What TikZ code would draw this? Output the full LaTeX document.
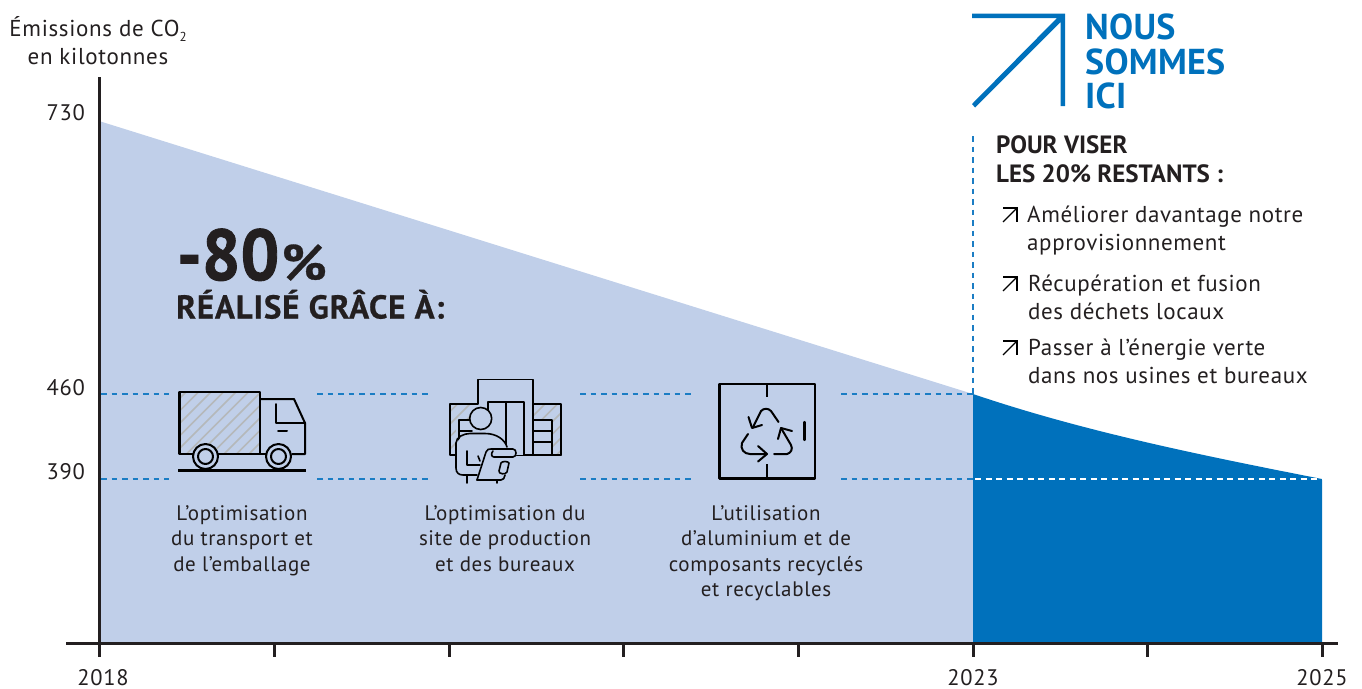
\documentclass[tikz,border=0pt]{standalone}
\usepackage{fontspec}
\setmainfont{PT Sans}
\newfontfamily\bigfont[FakeStretch=0.95,FakeBold=1.2]{PT Sans Bold}
\newfontfamily\pctfont[FakeStretch=1.08,FakeBold=0.6]{PT Sans Bold}
\newfontfamily\midfont[LetterSpace=2.6,FakeBold=0.6]{PT Sans Bold}
\definecolor{ink}{HTML}{231F20}
\definecolor{lightb}{HTML}{C0CFE9}
\definecolor{deepb}{HTML}{0071BC}
\definecolor{dashb}{HTML}{1B7DC4}
\definecolor{hatch}{HTML}{B5B8BA}
\tikzset{
 x=1pt,y=-1pt,
 axisline/.style={draw=ink,line width=3pt},
 dashline/.style={draw=dashb,line width=1.7pt,dash pattern=on 5.5pt off 5pt},
 dashwhite/.style={draw=white,line width=2pt,dash pattern=on 6pt off 4.5pt},
 icon/.style={draw=black,line width=2.2pt,line join=round,line cap=round},
 lab/.style={font=\fontsize{21}{25.5}\selectfont\addfontfeatures{LetterSpace=3},text=ink,inner sep=0pt,align=center},
 num/.style={font=\fontsize{22.5}{25.5}\selectfont\addfontfeatures{LetterSpace=3},text=ink,inner sep=0pt},
 ttl/.style={font=\fontsize{23}{28}\selectfont\addfontfeatures{LetterSpace=3},text=ink,inner sep=0pt,align=center},
 left lab/.style={font=\fontsize{23}{28}\selectfont\addfontfeatures{LetterSpace=2.6},text=ink,inner sep=0pt,align=left,anchor=north west},
 head/.style={font=\fontsize{25}{29}\selectfont\bfseries,text=ink,inner sep=0pt,align=left,anchor=north west},
 sm/.style={icon,line width=1.6pt},
}
\newcommand{\hatchclip}[5]{%
 \begin{scope}
 \clip (#1,#2) rectangle (#3,#4);
 \foreach \k in {0,...,#5}{
   \draw[hatch,line width=1.5pt] ({#1+\k*12.5-60},{#4+4}) -- ++(100,-100);
 }
 \end{scope}}
\begin{document}
\begin{tikzpicture}
\useasboundingbox (0,0) rectangle (1362,688);
% areas
\fill[lightb] (99,121) -- (973,394) -- (973,643) -- (99,643) -- cycle;
\fill[deepb] (973,394) .. controls (1085,432) and (1205,456) .. (1322,479) -- (1322,643) -- (973,643) -- cycle;
% dashed
\foreach \yy in {394,479}{
 \draw[dashline] (101,\yy) -- (169,\yy);
 \draw[dashline] (317,\yy) -- (430,\yy);
 \draw[dashline] (580,\yy) -- (692,\yy);
 \draw[dashline] (841,\yy) -- (973,\yy);
}
\draw[dashwhite] (975,479) -- (1322,479);
\draw[dashline] (973,136) -- (973,394);
% axes
\draw[axisline] (99.5,77) -- (99.5,643);
\draw[axisline] (66,643.5) -- (1338,643.5);
\foreach \xx in {99.5,274,449,623.5,798,973,1147.5,1322}{
 \draw[axisline] (\xx,643) -- (\xx,657);
}
% y labels
\node[num,anchor=base east] (y730) at (85,120.5) {730};
\node[num,anchor=base east] (y460) at (85,395) {460};
\node[num,anchor=base east] (y390) at (85,479) {390};
\node[ttl] (ytitle) at (98,41) {Émissions de CO\raisebox{-5pt}{\fontsize{13}{13}\selectfont 2}\\en kilotonnes};
% x labels
\node[num,anchor=base] (x2018) at (103,685) {2018};
\node[num,anchor=base] (x2023) at (973,685) {2023};
\node[num,anchor=base] (x2025) at (1322,685) {2025};
% big text
\node[inner sep=0pt,anchor=base west,text=ink] (big) at (177,280) {\fontsize{72}{72}\selectfont\bigfont -80\kern2pt\fontsize{50}{50}\selectfont\pctfont\%};
\node[inner sep=0pt,anchor=base west,text=ink] (real) at (176,318.5) {\fontsize{33}{33}\selectfont\midfont RÉALISÉ GRÂCE À:};
% truck
\hatchclip{180}{392}{260}{454}{13}
\draw[icon] (179.5,392) rectangle (260,454);
\draw[icon,line width=2pt] (260,399) -- (294,399) -- (305,423) -- (305,454) -- (292,454);
\draw[icon,line width=2pt] (275.5,404) -- (275.5,423) -- (305,423);
\draw[icon,line width=2pt] (278,431) -- (287,431);
\draw[icon,line width=2pt] (260,454) -- (266,454);
\foreach \cx in {205.5,278.5}{
 \fill[lightb] (\cx,456.5) circle (12.5);
 \draw[icon,line width=2pt] (\cx,456.5) circle (12.5);
 \draw[icon,line width=2pt] (\cx,456.5) circle (7.5);
}
\draw[icon,line cap=butt] (178,470.5) -- (306,470.5);
% factory
\hatchclip{450}{404}{561}{455}{15}
\draw[sm] (450,404) rectangle (561,455);
\fill[lightb] (478,380) rectangle (533,455);
\fill[lightb] (456,420) rectangle (478,455);
\draw[sm] (478,404) -- (478,379.5) -- (533,379.5) -- (533,404);
\draw[sm] (488,420) -- (488,402) -- (524,402) -- (524,455);
\draw[sm] (506,402) -- (506,445);
\fill[lightb] (533,420) rectangle (552,455);
\draw[sm] (533,420) -- (552,420) -- (552,455);
\draw[sm] (533,431) -- (552,431);
\draw[sm] (533,442) -- (552,442);
\draw[sm] (533,404) -- (533,455);
\draw[sm] (459,440) -- (459,420) -- (470,420);
\draw[sm] (459,431) -- (472,431);
\draw[sm] (524,455) -- (561,455);
% person
\fill[lightb] (456,485) -- (456,450) .. controls (456,438) and (465,433) .. (475,433) -- (485,433) .. controls (497,433) and (506,440) .. (508,450) -- (508,470) -- (490,480) -- (486,485) -- cycle;
\fill[lightb] (480.7,418.5) circle (11);
\draw[sm] (480.7,418.5) circle (11);
\draw[sm] (456,465) -- (456,443) .. controls (456,437) and (464,433.5) .. (470,433.5) -- (485,433.5) .. controls (497,433.5) and (505,440) .. (507,447);
\draw[sm] (456,465) -- (456,468) .. controls (456,473) and (459,475) .. (463,475) -- (477,475);
\draw[sm] (467,451) -- (467,465) -- (480,465);
\draw[sm] (478,456) -- (480,461);
\draw[sm] (467,475) -- (467,483);
\draw[sm] (497,481) -- (497,483);
\fill[lightb] (486,449) -- (516,449) -- (516,456) -- (505,457) -- (508,475) -- (503,480) -- (477,480) -- cycle;
\draw[sm] (477,480) -- (486,452) .. controls (487,449) and (489,449) .. (491,449) -- (513,449) .. controls (517,449) and (517,457) .. (513,457) -- (494,457) .. controls (491,457) and (491,453) .. (493,451);
\draw[sm] (477,480) -- (501,480) .. controls (503,480) and (505,478) .. (505,475);
\draw[sm] (499,471) -- (501,463) .. controls (502,461) and (508,461) .. (509,463) -- (507,472) .. controls (506,475) and (498,474) .. (499,471);
% recycle
\draw[icon,line cap=butt] (719.5,384) rectangle (815,478.5);
\draw[icon,line cap=butt] (767,384) -- (767,397);
\draw[icon,line cap=butt] (767,464) -- (767,478);
\draw[icon] (804.5,422) -- (804.5,440);
\draw[icon,line width=2pt] (778.5,422) -- (771,411) .. controls (768,408) and (764,408) .. (761,411) -- (753,427);
\draw[icon,line width=2pt] (748.5,417) -- (752,428) -- (762,425);
\draw[icon,line width=2pt] (748,434) -- (742,443) .. controls (740,449) and (744,454) .. (750,454) -- (766,454);
\draw[icon,line width=2pt] (758,446) -- (767,454) -- (758,461.5);
\draw[icon,line width=2pt] (774,454) -- (787,454) .. controls (791,453) and (793,449) .. (791,445) -- (781,428);
\draw[icon,line width=2pt] (778,439) -- (781,428) -- (792,431);
% captions
\node[lab,anchor=north] (c1) at (242,505) {L’optimisation\\du transport et\\de l’emballage};
\node[lab,anchor=north] (c2) at (505,505) {L’optimisation du\\site de production\\et des bureaux};
\node[lab,anchor=north] (c3) at (766,505) {L’utilisation\\d’aluminium et de\\composants recyclés\\et recyclables};
% logo
\fill[deepb] (972,13.5) -- (1065,13.5) -- (1065,106) -- (1060.5,106) -- (1060.5,22) -- (975,107.5) -- (972,104) -- (1057,18) -- (972,18) -- cycle;
\node[inner sep=0pt,anchor=north west,text=deepb,font=\fontsize{36}{34.5}\selectfont\bfseries\addfontfeatures{LetterSpace=0.8},align=left] (here) at (1085,14) {NOUS\\SOMMES\\ICI};
% right text
\node[head] (viser) at (996,135) {POUR VISER\\LES 20\% RESTANTS :};
\node[left lab] (t1) at (1027,206) {Améliorer davantage notre\\approvisionnement};
\node[left lab] (t2) at (1028,275) {Récupération et fusion\\des déchets locaux};
\node[left lab] (t3) at (1028,339) {Passer à l’énergie verte\\dans nos usines et bureaux};
\foreach \yy in {208,277,341}{
 \draw[draw=black,line width=1.2pt,line cap=butt] (1003,\yy) -- (1017,\yy) -- (1017,\yy+14);
 \draw[draw=black,line width=1.2pt,line cap=butt] (1017,\yy) -- (1003,\yy+14);
}
\end{tikzpicture}
\end{document}
